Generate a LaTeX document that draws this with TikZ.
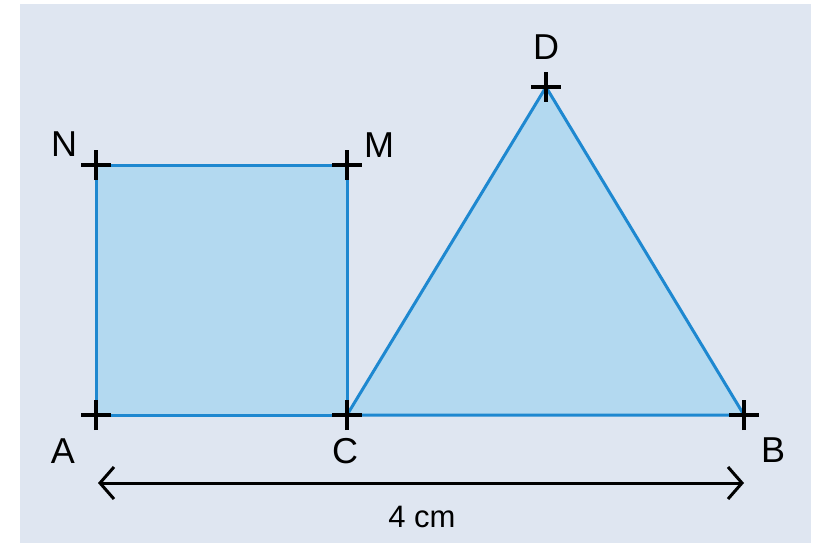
\documentclass[tikz,border=0pt]{standalone}
\usepackage{fontspec}
\setmainfont{Liberation Sans}
\usetikzlibrary{arrows.meta}
\definecolor{bgc}{HTML}{DFE6F1}
\definecolor{fillc}{HTML}{B3D9F0}
\definecolor{edgec}{HTML}{1E88D0}
\begin{document}
\begin{tikzpicture}[x=1pt,y=-1pt,
  shape edge/.style={draw=edgec,line width=3pt,fill=fillc,line join=miter},
  crossmark/.style={draw=black,line width=3.5pt},
  ptlabel/.style={inner sep=0pt,font=\fontsize{36}{36}\selectfont},
  pt/.style={inner sep=0pt,minimum size=0pt}]
\useasboundingbox (0,0) rectangle (820,543);
\fill[bgc] (20,4) rectangle (811,543);
\coordinate (A) at (96,415);
\coordinate (C) at (347,415);
\coordinate (M) at (347,165);
\coordinate (N) at (96,165);
\coordinate (B) at (744,415);
\coordinate (D) at (546,87);
\draw[shape edge] (A) -- (C) -- (M) -- (N) -- cycle;
\draw[shape edge] (C) -- (B) -- (D) -- cycle;
\foreach \p in {A,C,M,N,B,D}{
  \draw[crossmark] ([xshift=-15pt]\p) -- ([xshift=15pt]\p);
  \draw[crossmark] ([yshift=-15pt]\p) -- ([yshift=15pt]\p);
}
\node[ptlabel] (lN) at (64,144) {N};
\node[ptlabel] (lM) at (379,145) {M};
\node[ptlabel] (lA) at (63,451) {A};
\node[ptlabel] (lC) at (345,451) {C};
\node[ptlabel] (lB) at (773,450) {B};
\node[ptlabel] (lD) at (546,47) {D};
\coordinate (L) at (98,483);
\coordinate (R) at (744,483);
\draw[line width=3pt,{Straight Barb[length=14pt,width=32pt,line width=3pt]}-{Straight Barb[length=14pt,width=32pt,line width=3pt]}] (L) -- (R);
\node[inner sep=0pt,font=\fontsize{31}{31}\selectfont] (len) at (422,517) {4 cm};
\end{tikzpicture}
\end{document}
